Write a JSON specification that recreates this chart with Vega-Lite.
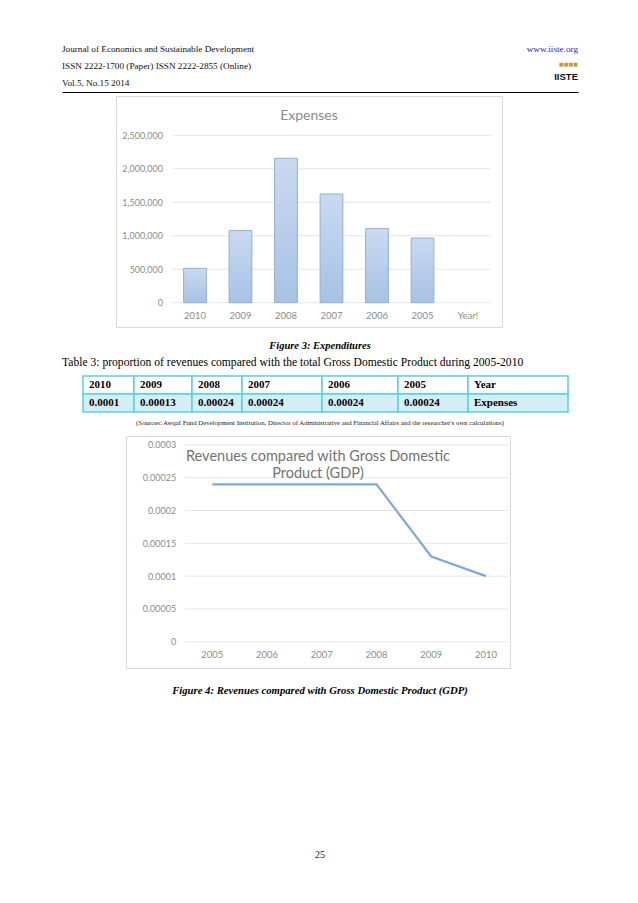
{
 "$schema": "https://vega.github.io/schema/vega-lite/v6.json",
 "background": "white",
 "padding": 0,
 "spacing": 0,
 "bounds": "full",
 "config": {"view": {"stroke": null}, "font": "Liberation Serif", "axis": {"labelOverlap": false}},
 "datasets": {
  "header": [
   {"side": "left", "line": "1", "k": "text", "t": "Journal of Economics and Sustainable Development"},
   {"side": "left", "line": "2", "k": "text", "t": "ISSN 2222-1700 (Paper) ISSN 2222-2855 (Online)"},
   {"side": "left", "line": "3", "k": "text", "t": "Vol.5, No.15 2014"},
   {"side": "right", "line": "1", "k": "link", "t": "www.iiste.org"},
   {"side": "right", "line": "2", "k": "stripe", "t": "■■■■"},
   {"side": "right", "line": "3", "k": "logo", "t": "IISTE"}
  ],
  "expenses": [
   {"year": "2010", "value": 513000},
   {"year": "2009", "value": 1076000},
   {"year": "2008", "value": 2156000},
   {"year": "2007", "value": 1624000},
   {"year": "2006", "value": 1106000},
   {"year": "2005", "value": 966000},
   {"year": "Year!", "value": null}
  ],
  "grid1": [
   {"v": 0, "from": "2010", "to": "Year!"},
   {"v": 500000, "from": "2010", "to": "Year!"},
   {"v": 1000000, "from": "2010", "to": "Year!"},
   {"v": 1500000, "from": "2010", "to": "Year!"},
   {"v": 2000000, "from": "2010", "to": "Year!"},
   {"v": 2500000, "from": "2010", "to": "Year!"}
  ],
  "captions": [
   {"side": "center", "line": "a", "k": "fig", "t": "Figure 3: Expenditures"},
   {"side": "left", "line": "b", "k": "tab", "t": "Table 3: proportion of revenues compared with the total Gross Domestic Product during 2005-2010"}
  ],
  "table": [
   {"col": "c1", "row": "r1", "t": "2010"}, {"col": "c1", "row": "r2", "t": "0.0001"},
   {"col": "c2", "row": "r1", "t": "2009"}, {"col": "c2", "row": "r2", "t": "0.00013"},
   {"col": "c3", "row": "r1", "t": "2008"}, {"col": "c3", "row": "r2", "t": "0.00024"},
   {"col": "c4", "row": "r1", "t": "2007"}, {"col": "c4", "row": "r2", "t": "0.00024"},
   {"col": "c5", "row": "r1", "t": "2006"}, {"col": "c5", "row": "r2", "t": "0.00024"},
   {"col": "c6", "row": "r1", "t": "2005"}, {"col": "c6", "row": "r2", "t": "0.00024"},
   {"col": "c7", "row": "r1", "t": "Year"}, {"col": "c7", "row": "r2", "t": "Expenses"}
  ],
  "revenue": [
   {"year": "2005", "value": 0.00024},
   {"year": "2006", "value": 0.00024},
   {"year": "2007", "value": 0.00024},
   {"year": "2008", "value": 0.00024},
   {"year": "2009", "value": 0.00013},
   {"year": "2010", "value": 0.0001}
  ],
  "grid2": [
   {"v": 0, "from": "2005", "to": "2010"},
   {"v": 0.00005, "from": "2005", "to": "2010"},
   {"v": 0.0001, "from": "2005", "to": "2010"},
   {"v": 0.00015, "from": "2005", "to": "2010"},
   {"v": 0.0002, "from": "2005", "to": "2010"},
   {"v": 0.00025, "from": "2005", "to": "2010"},
   {"v": 0.0003, "from": "2005", "to": "2010"}
  ],
  "source": [{"t": "(Sources: Awqaf Fund Development Institution, Director of Administrative and Financial Affairs and the researcher's own calculations)"}],
  "fig4": [{"t": "Figure 4:  Revenues compared with Gross Domestic Product (GDP)"}],
  "page": [{"t": "25"}]
 },
 "vconcat": [
  {"width": 638, "height": 40, "data": {"values": []}, "mark": "point", "view": {"fill": "white", "stroke": null}},
  {"hconcat": [
    {"width": 62, "height": 52, "data": {"values": []}, "mark": "point"},
    {"width": 516, "height": 52, "data": {"name": "header"},
     "encoding": {
      "x": {"field": "side", "type": "nominal", "scale": {"type": "point", "domain": ["left", "center", "right"], "padding": 0},
            "axis": {"orient": "bottom", "labels": false, "ticks": false, "domain": true, "domainColor": "#000000", "domainWidth": 1, "grid": false, "title": null}},
      "y": {"field": "line", "type": "nominal", "scale": {"type": "point", "domain": ["1", "2", "3"], "padding": 0.53, "align": 0.5}, "axis": null},
      "text": {"field": "t"}
     },
     "layer": [
      {"transform": [{"filter": "datum.k == 'text'"}], "mark": {"type": "text", "align": "left", "font": "Liberation Serif", "fontSize": 9.2, "color": "#111111"}},
      {"transform": [{"filter": "datum.k == 'link'"}], "mark": {"type": "text", "align": "right", "font": "Liberation Serif", "fontSize": 9.2, "color": "#2a2ab0"}},
      {"transform": [{"filter": "datum.k == 'stripe'"}], "mark": {"type": "text", "align": "right", "dy": -2, "font": "DejaVu Sans", "fontSize": 5, "color": "#c99a3c"}},
      {"transform": [{"filter": "datum.k == 'logo'"}], "mark": {"type": "text", "align": "right", "dy": -6, "font": "Liberation Sans", "fontWeight": "bold", "fontSize": 9.5, "color": "#111111"}}
     ]
    },
    {"width": 60, "height": 52, "data": {"values": []}, "mark": "point"}
   ], "spacing": 0, "bounds": "flush"},
  {"width": 1, "height": 3, "data": {"values": []}, "mark": "point"},
  {"hconcat": [
    {"width": 116, "height": 231, "data": {"values": []}, "mark": "point"},
    {"width": 386, "height": 231,
     "view": {"stroke": "#d9d9d9", "strokeWidth": 1, "fill": "white"},
     "title": {"text": "Expenses", "font": "Lato", "fontSize": 14, "fontWeight": "normal", "color": "#8c8c8c", "offset": -26.5, "baseline": "top", "anchor": "middle", "frame": "group"},
     "layer": [
      {"data": {"name": "grid1"},
       "mark": {"type": "rule", "color": "#e6e6e6", "strokeWidth": 1},
       "encoding": {
        "x": {"field": "from", "type": "nominal", "bandPosition": 0,
              "scale": {"type": "band", "domain": ["2010", "2009", "2008", "2007", "2006", "2005", "Year!"], "paddingInner": 0, "paddingOuter": 0.742, "align": 0.833},
              "axis": {"orient": "bottom", "offset": -12, "labelBaseline": "middle", "labelPadding": 0, "ticks": false, "tickSize": 0, "domain": false, "grid": false, "title": null, "labelAngle": 0, "labelColor": "#8c8c8c", "labelFont": "Lato", "labelFontSize": 9.5}},
        "x2": {"field": "to", "bandPosition": 1},
        "y": {"field": "v", "type": "quantitative",
              "scale": {"domain": [-362900, 3086900], "nice": false, "zero": false},
              "axis": {"offset": -46.5, "values": [0, 500000, 1000000, 1500000, 2000000, 2500000], "labelExpr": "format(datum.value, ',')", "labelOverlap": false, "labelPadding": 0, "ticks": false, "tickSize": 0, "domain": false, "grid": false, "title": null, "labelColor": "#8c8c8c", "labelFont": "Lato", "labelFontSize": 9}}
       }},
      {"data": {"name": "expenses"},
       "mark": {"type": "bar", "width": {"band": 0.5}, "stroke": "#8db0dc", "strokeWidth": 1,
                "fill": {"gradient": "linear", "x1": 0, "y1": 0, "x2": 0, "y2": 1, "stops": [{"offset": 0, "color": "#c9daf0"}, {"offset": 1, "color": "#a7c2e5"}]}},
       "encoding": {
        "x": {"field": "year", "type": "nominal",
              "axis": {"orient": "bottom", "offset": -12, "labelBaseline": "middle", "labelPadding": 0, "ticks": false, "tickSize": 0, "domain": false, "grid": false, "title": null, "labelAngle": 0, "labelColor": "#8c8c8c", "labelFont": "Lato", "labelFontSize": 9.5}},
        "y": {"field": "value", "type": "quantitative",
              "axis": {"offset": -46.5, "values": [0, 500000, 1000000, 1500000, 2000000, 2500000], "labelExpr": "format(datum.value, ',')", "labelOverlap": false, "labelPadding": 0, "ticks": false, "tickSize": 0, "domain": false, "grid": false, "title": null, "labelColor": "#8c8c8c", "labelFont": "Lato", "labelFontSize": 9}},
        "y2": {"datum": 0}}}
     ]}
   ], "spacing": 0, "bounds": "flush"},
  {"hconcat": [
    {"width": 62, "height": 47, "data": {"values": []}, "mark": "point"},
    {"width": 516, "height": 47, "data": {"name": "captions"},
     "encoding": {
      "x": {"field": "side", "type": "nominal", "scale": {"type": "point", "domain": ["left", "center", "right"], "padding": 0}, "axis": null},
      "y": {"field": "line", "type": "nominal", "scale": {"type": "point", "domain": ["a", "b"], "padding": 0.882, "align": 0.6}, "axis": null},
      "text": {"field": "t"}
     },
     "layer": [
      {"transform": [{"filter": "datum.k == 'fig'"}], "mark": {"type": "text", "align": "center", "font": "Liberation Serif", "fontSize": 10.5, "fontWeight": "bold", "fontStyle": "italic", "color": "#000000"}},
      {"transform": [{"filter": "datum.k == 'tab'"}], "mark": {"type": "text", "align": "left", "font": "Liberation Serif", "fontSize": 11.6, "color": "#000000"}}
     ]}
   ], "spacing": 0, "bounds": "flush"},
  {"hconcat": [
    {"width": 83, "height": 36, "data": {"values": []}, "mark": "point"},
    {"width": 51, "height": 36, "data": {"name": "table"}, "transform": [{"filter": "datum.col == 'c1'"}],
     "layer": [
      {"mark": {"type": "rect", "stroke": "#52d3e3", "strokeWidth": 1.5}, "encoding": {"y": {"field": "row", "type": "nominal", "scale": {"type": "band", "domain": ["r1", "r2"], "paddingInner": 0, "paddingOuter": 0}, "axis": null}, "fill": {"field": "row", "type": "nominal", "scale": {"domain": ["r1", "r2"], "range": ["#ffffff", "#d5edf5"]}, "legend": null}}},
      {"mark": {"type": "text", "align": "left", "dx": 6, "font": "Liberation Serif", "fontWeight": "bold", "fontSize": 11, "color": "#000000"}, "encoding": {"y": {"field": "row", "type": "nominal", "bandPosition": 0.5}, "x": {"field": "col", "type": "nominal", "scale": {"type": "point", "padding": 0, "align": 0}, "axis": null}, "text": {"field": "t"}}}
     ]},
    {"width": 58, "height": 36, "data": {"name": "table"}, "transform": [{"filter": "datum.col == 'c2'"}],
     "layer": [
      {"mark": {"type": "rect", "stroke": "#52d3e3", "strokeWidth": 1.5}, "encoding": {"y": {"field": "row", "type": "nominal", "scale": {"type": "band", "domain": ["r1", "r2"], "paddingInner": 0, "paddingOuter": 0}, "axis": null}, "fill": {"field": "row", "type": "nominal", "scale": {"domain": ["r1", "r2"], "range": ["#ffffff", "#d5edf5"]}, "legend": null}}},
      {"mark": {"type": "text", "align": "left", "dx": 6, "font": "Liberation Serif", "fontWeight": "bold", "fontSize": 11, "color": "#000000"}, "encoding": {"y": {"field": "row", "type": "nominal", "bandPosition": 0.5}, "x": {"field": "col", "type": "nominal", "scale": {"type": "point", "padding": 0, "align": 0}, "axis": null}, "text": {"field": "t"}}}
     ]},
    {"width": 50, "height": 36, "data": {"name": "table"}, "transform": [{"filter": "datum.col == 'c3'"}],
     "layer": [
      {"mark": {"type": "rect", "stroke": "#52d3e3", "strokeWidth": 1.5}, "encoding": {"y": {"field": "row", "type": "nominal", "scale": {"type": "band", "domain": ["r1", "r2"], "paddingInner": 0, "paddingOuter": 0}, "axis": null}, "fill": {"field": "row", "type": "nominal", "scale": {"domain": ["r1", "r2"], "range": ["#ffffff", "#d5edf5"]}, "legend": null}}},
      {"mark": {"type": "text", "align": "left", "dx": 6, "font": "Liberation Serif", "fontWeight": "bold", "fontSize": 11, "color": "#000000"}, "encoding": {"y": {"field": "row", "type": "nominal", "bandPosition": 0.5}, "x": {"field": "col", "type": "nominal", "scale": {"type": "point", "padding": 0, "align": 0}, "axis": null}, "text": {"field": "t"}}}
     ]},
    {"width": 80, "height": 36, "data": {"name": "table"}, "transform": [{"filter": "datum.col == 'c4'"}],
     "layer": [
      {"mark": {"type": "rect", "stroke": "#52d3e3", "strokeWidth": 1.5}, "encoding": {"y": {"field": "row", "type": "nominal", "scale": {"type": "band", "domain": ["r1", "r2"], "paddingInner": 0, "paddingOuter": 0}, "axis": null}, "fill": {"field": "row", "type": "nominal", "scale": {"domain": ["r1", "r2"], "range": ["#ffffff", "#d5edf5"]}, "legend": null}}},
      {"mark": {"type": "text", "align": "left", "dx": 6, "font": "Liberation Serif", "fontWeight": "bold", "fontSize": 11, "color": "#000000"}, "encoding": {"y": {"field": "row", "type": "nominal", "bandPosition": 0.5}, "x": {"field": "col", "type": "nominal", "scale": {"type": "point", "padding": 0, "align": 0}, "axis": null}, "text": {"field": "t"}}}
     ]},
    {"width": 76, "height": 36, "data": {"name": "table"}, "transform": [{"filter": "datum.col == 'c5'"}],
     "layer": [
      {"mark": {"type": "rect", "stroke": "#52d3e3", "strokeWidth": 1.5}, "encoding": {"y": {"field": "row", "type": "nominal", "scale": {"type": "band", "domain": ["r1", "r2"], "paddingInner": 0, "paddingOuter": 0}, "axis": null}, "fill": {"field": "row", "type": "nominal", "scale": {"domain": ["r1", "r2"], "range": ["#ffffff", "#d5edf5"]}, "legend": null}}},
      {"mark": {"type": "text", "align": "left", "dx": 6, "font": "Liberation Serif", "fontWeight": "bold", "fontSize": 11, "color": "#000000"}, "encoding": {"y": {"field": "row", "type": "nominal", "bandPosition": 0.5}, "x": {"field": "col", "type": "nominal", "scale": {"type": "point", "padding": 0, "align": 0}, "axis": null}, "text": {"field": "t"}}}
     ]},
    {"width": 70, "height": 36, "data": {"name": "table"}, "transform": [{"filter": "datum.col == 'c6'"}],
     "layer": [
      {"mark": {"type": "rect", "stroke": "#52d3e3", "strokeWidth": 1.5}, "encoding": {"y": {"field": "row", "type": "nominal", "scale": {"type": "band", "domain": ["r1", "r2"], "paddingInner": 0, "paddingOuter": 0}, "axis": null}, "fill": {"field": "row", "type": "nominal", "scale": {"domain": ["r1", "r2"], "range": ["#ffffff", "#d5edf5"]}, "legend": null}}},
      {"mark": {"type": "text", "align": "left", "dx": 6, "font": "Liberation Serif", "fontWeight": "bold", "fontSize": 11, "color": "#000000"}, "encoding": {"y": {"field": "row", "type": "nominal", "bandPosition": 0.5}, "x": {"field": "col", "type": "nominal", "scale": {"type": "point", "padding": 0, "align": 0}, "axis": null}, "text": {"field": "t"}}}
     ]},
    {"width": 100, "height": 36, "data": {"name": "table"}, "transform": [{"filter": "datum.col == 'c7'"}],
     "layer": [
      {"mark": {"type": "rect", "stroke": "#52d3e3", "strokeWidth": 1.5}, "encoding": {"y": {"field": "row", "type": "nominal", "scale": {"type": "band", "domain": ["r1", "r2"], "paddingInner": 0, "paddingOuter": 0}, "axis": null}, "fill": {"field": "row", "type": "nominal", "scale": {"domain": ["r1", "r2"], "range": ["#ffffff", "#d5edf5"]}, "legend": null}}},
      {"mark": {"type": "text", "align": "left", "dx": 6, "font": "Liberation Serif", "fontWeight": "bold", "fontSize": 11, "color": "#000000"}, "encoding": {"y": {"field": "row", "type": "nominal", "bandPosition": 0.5}, "x": {"field": "col", "type": "nominal", "scale": {"type": "point", "padding": 0, "align": 0}, "axis": null}, "text": {"field": "t"}}}
     ]}
   ], "spacing": 0, "bounds": "flush"},
  {"hconcat": [
    {"width": 62, "height": 22, "data": {"values": []}, "mark": "point"},
    {"width": 516, "height": 22, "data": {"name": "source"}, "mark": {"type": "text", "dy": -1.5, "font": "Liberation Serif", "fontSize": 6.8, "color": "#222222"}, "encoding": {"text": {"field": "t"}}}
   ], "spacing": 0, "bounds": "flush"},
  {"hconcat": [
    {"width": 126, "height": 232, "data": {"values": []}, "mark": "point"},
    {"width": 384, "height": 232,
     "view": {"stroke": "#d9d9d9", "strokeWidth": 1, "fill": "white"},
     "title": {"text": ["Revenues compared with Gross Domestic", "Product (GDP)"], "font": "Lato", "fontSize": 14.5, "fontWeight": "normal", "color": "#737373", "offset": -45, "baseline": "top", "lineHeight": 17, "anchor": "middle", "frame": "group"},
     "layer": [
      {"data": {"name": "grid2"},
       "mark": {"type": "rule", "color": "#e6e6e6", "strokeWidth": 1},
       "encoding": {
        "x": {"field": "from", "type": "nominal", "bandPosition": -0.123,
              "scale": {"type": "band", "domain": ["2005", "2006", "2007", "2008", "2009", "2010"], "paddingInner": 0.2, "paddingOuter": 0.6075, "align": 0.968},
              "axis": {"orient": "bottom", "offset": -14, "labelBaseline": "middle", "labelPadding": 0, "ticks": false, "tickSize": 0, "domain": false, "grid": false, "title": null, "labelAngle": 0, "labelColor": "#8c8c8c", "labelFont": "Lato", "labelFontSize": 9.5}},
        "x2": {"field": "to", "bandPosition": 1},
        "y": {"field": "v", "type": "quantitative",
              "scale": {"domain": [-0.0000401, 0.0003137], "nice": false, "zero": false},
              "axis": {"offset": -49.7, "values": [0, 0.00005, 0.0001, 0.00015, 0.0002, 0.00025, 0.0003], "labelExpr": "datum.value == 0 ? '0' : format(datum.value, '.5~f')", "labelOverlap": false, "labelPadding": 0, "ticks": false, "tickSize": 0, "domain": false, "grid": false, "title": null, "labelColor": "#8c8c8c", "labelFont": "Lato", "labelFontSize": 9}}
       }},
      {"data": {"name": "revenue"},
       "mark": {"type": "line", "color": "#7ea9d9", "strokeWidth": 2.2},
       "encoding": {
        "x": {"field": "year", "type": "nominal", "bandPosition": 0.5,
              "axis": {"orient": "bottom", "offset": -14, "labelBaseline": "middle", "labelPadding": 0, "ticks": false, "tickSize": 0, "domain": false, "grid": false, "title": null, "labelAngle": 0, "labelColor": "#8c8c8c", "labelFont": "Lato", "labelFontSize": 9.5}},
        "y": {"field": "value", "type": "quantitative",
              "axis": {"offset": -49.7, "values": [0, 0.00005, 0.0001, 0.00015, 0.0002, 0.00025, 0.0003], "labelExpr": "datum.value == 0 ? '0' : format(datum.value, '.5~f')", "labelOverlap": false, "labelPadding": 0, "ticks": false, "tickSize": 0, "domain": false, "grid": false, "title": null, "labelColor": "#8c8c8c", "labelFont": "Lato", "labelFontSize": 9}}}}
     ]}
   ], "spacing": 0, "bounds": "flush"},
  {"hconcat": [
    {"width": 62, "height": 44, "data": {"values": []}, "mark": "point"},
    {"width": 516, "height": 44, "data": {"name": "fig4"}, "mark": {"type": "text", "font": "Liberation Serif", "fontSize": 10.7, "fontWeight": "bold", "fontStyle": "italic", "color": "#000000"}, "encoding": {"text": {"field": "t"}}}
   ], "spacing": 0, "bounds": "flush"},
  {"width": 1, "height": 130, "data": {"values": []}, "mark": "point"},
  {"hconcat": [
    {"width": 62, "height": 24, "data": {"values": []}, "mark": "point"},
    {"width": 516, "height": 24, "data": {"name": "page"}, "mark": {"type": "text", "font": "Liberation Serif", "fontSize": 10, "color": "#222222"}, "encoding": {"text": {"field": "t"}}}
   ], "spacing": 0, "bounds": "flush"},
  {"width": 1, "height": 36, "data": {"values": []}, "mark": "point"}
 ]
}
